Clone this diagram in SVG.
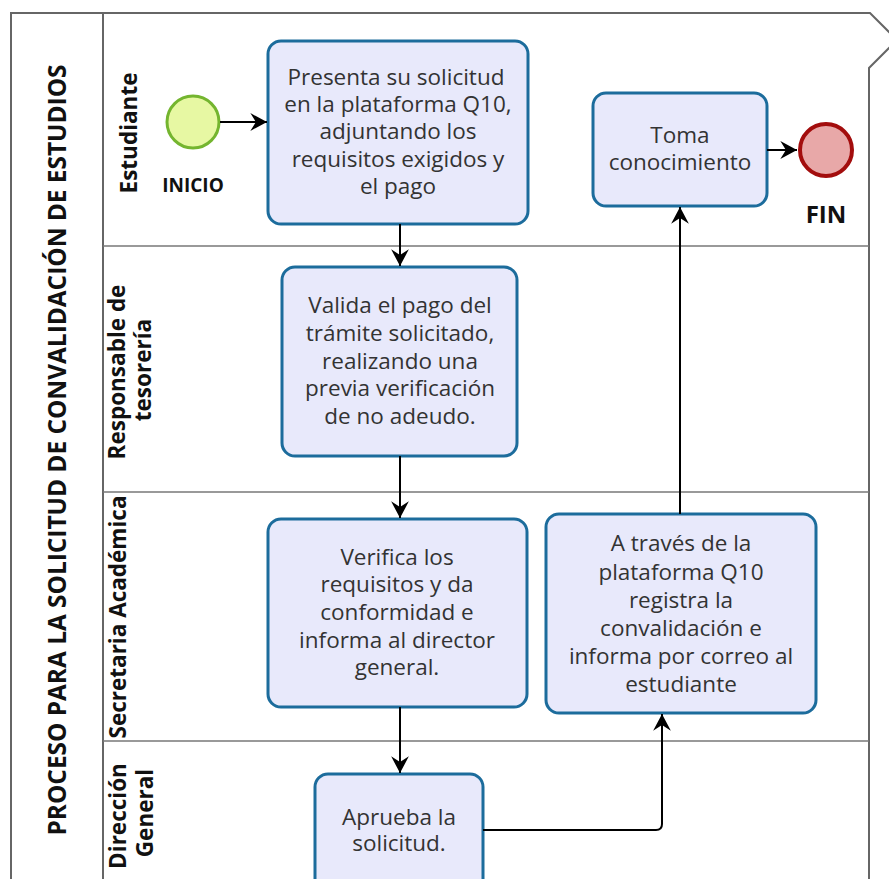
<svg xmlns="http://www.w3.org/2000/svg" width="889" height="879" viewBox="0 0 889 879">
  <style>
    .pool { fill: none; stroke: #666; stroke-width: 2; }
    .lane { fill: none; stroke: #777; stroke-width: 1.5; }
    .task { fill: #E8E9FB; stroke: #1C6C9C; stroke-width: 3; }
    .ttext { font-family: "Open Sans", "Noto Sans", sans-serif; font-size: 22.5px; fill: #333; text-anchor: middle; }
    .label { font-family: "Open Sans", "Noto Sans", sans-serif; font-size: 22.5px; font-weight: bold; fill: #111; text-anchor: middle; }
    .title { font-size: 24.4px; }
    .evlabel { font-family: "Open Sans", "Noto Sans", sans-serif; font-size: 19px; font-weight: bold; fill: #111; text-anchor: middle; }
    .fin { font-size: 24px; }
    .conn { fill: none; stroke: #000; stroke-width: 2; marker-end: url(#arrow); }
  </style>
  <defs>
    <marker id="arrow" markerUnits="userSpaceOnUse" markerWidth="20" markerHeight="20" viewBox="-16 -9 17 18" refX="0" refY="0" orient="auto">
      <path d="M0,0 L-15,-8 L-10,0 L-15,8 Z" fill="#000"/>
    </marker>
  </defs>

  <rect width="889" height="879" fill="#fff"/>

  <g id="pool">
    <path class="pool" d="M11,879 V13 H870 L897,40 L869,68 V879"/>
    <line class="pool" x1="103" y1="13" x2="103" y2="879"/>
    <text class="label title" transform="translate(66,450) rotate(-90)">PROCESO PARA LA SOLICITUD DE CONVALIDACIÓN DE ESTUDIOS</text>
  </g>

  <g id="lanes">
    <line class="lane" x1="103" y1="246" x2="869" y2="246"/>
    <line class="lane" x1="103" y1="492" x2="869" y2="492"/>
    <line class="lane" x1="103" y1="741" x2="869" y2="741"/>
    <text class="label" transform="translate(137,133) rotate(-90)">Estudiante</text>
    <text class="label" transform="translate(0,0) rotate(-90)"><tspan x="-372" y="125">Responsable de</tspan><tspan x="-370" y="151">tesorería</tspan></text>
    <text class="label" transform="translate(126,617) rotate(-90)">Secretaria Académica</text>
    <text class="label" transform="translate(0,0) rotate(-90)"><tspan x="-816" y="126">Dirección</tspan><tspan x="-813" y="153">General</tspan></text>
  </g>

  <g id="start">
    <circle cx="193" cy="122" r="26" fill="#E7F8A3" stroke="#74B52F" stroke-width="3"/>
    <text class="evlabel" x="193" y="192">INICIO</text>
  </g>

  <g id="task1">
    <rect class="task" x="268" y="41" width="260" height="183" rx="13"/>
    <text class="ttext"><tspan x="396" y="85">Presenta su solicitud</tspan><tspan x="398" y="112">en la plataforma Q10,</tspan><tspan x="398" y="139">adjuntando los</tspan><tspan x="398" y="167">requisitos exigidos y</tspan><tspan x="398" y="194">el pago</tspan></text>
  </g>

  <g id="task2">
    <rect class="task" x="282" y="267" width="235" height="189" rx="13"/>
    <text class="ttext"><tspan x="400" y="313">Valida el pago del</tspan><tspan x="400" y="341">trámite solicitado,</tspan><tspan x="400" y="369">realizando una</tspan><tspan x="400" y="396">previa verificación</tspan><tspan x="400" y="424">de no adeudo.</tspan></text>
  </g>

  <g id="task3">
    <rect class="task" x="268" y="519" width="259" height="188" rx="13"/>
    <text class="ttext"><tspan x="397" y="565">Verifica los</tspan><tspan x="397" y="592">requisitos y da</tspan><tspan x="397" y="620">conformidad e</tspan><tspan x="397" y="648">informa al director</tspan><tspan x="397" y="675">general.</tspan></text>
  </g>

  <g id="task4">
    <rect class="task" x="546" y="514" width="270" height="199" rx="13"/>
    <text class="ttext"><tspan x="681" y="551">A través de la</tspan><tspan x="681" y="580">plataforma Q10</tspan><tspan x="681" y="608">registra la</tspan><tspan x="681" y="636">convalidación e</tspan><tspan x="681" y="664">informa por correo al</tspan><tspan x="681" y="692">estudiante</tspan></text>
  </g>

  <g id="task5">
    <rect class="task" x="593" y="93" width="174" height="113" rx="13"/>
    <text class="ttext"><tspan x="680" y="143">Toma</tspan><tspan x="680" y="170">conocimiento</tspan></text>
  </g>

  <g id="task6">
    <rect class="task" x="315" y="774" width="168" height="120" rx="13"/>
    <text class="ttext"><tspan x="399" y="825">Aprueba la</tspan><tspan x="399" y="851">solicitud.</tspan></text>
  </g>

  <g id="end">
    <circle cx="826" cy="150" r="26" fill="#E8A8A8" stroke="#A30D0D" stroke-width="4"/>
    <text class="evlabel fin" x="826" y="223">FIN</text>
  </g>

  <g id="connectors">
    <path class="conn" d="M220,122 H267"/>
    <path class="conn" d="M400,224 V266"/>
    <path class="conn" d="M400,456 V518"/>
    <path class="conn" d="M400,707 V773"/>
    <path class="conn" d="M483,830 H656 Q662,830 662,824 V714"/>
    <path class="conn" d="M680,514 V207"/>
    <path class="conn" d="M767,150 H797"/>
  </g>
</svg>
